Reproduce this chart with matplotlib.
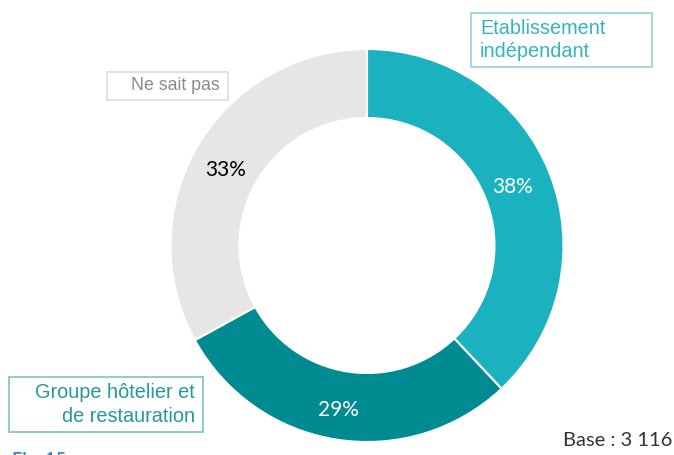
import matplotlib.pyplot as plt

# Répartition des réponses (base : 3 116)
categories = ["Etablissement\nindépendant", "Groupe hôtelier et\nde restauration", "Ne sait pas"]
shares = [38, 29, 33]
colors = ["#19B2BE", "#008A91", "#E6E6E6"]
pct_colors = ["white", "white", "black"]

W, H = 674, 455
fig = plt.figure(figsize=(W / 100, H / 100), dpi=100)
ax = fig.add_axes([0, 0, 1, 1])

# pixel-like coordinates, y going up
cx, cy, r_out = 367, H - 245.5, 196.5
ring_w = 69

wedges, _ = ax.pie(
    shares, colors=colors, startangle=90, counterclock=False,
    center=(cx, cy), radius=r_out,
    wedgeprops=dict(width=ring_w, edgecolor="white", linewidth=1.5),
)
ax.set_xlim(0, W)
ax.set_ylim(0, H)
ax.set_aspect("equal")
ax.axis("off")

# percentage labels
pct_pos = [(513, 187), (338, 410), (226, 170)]
for v, (px, py), c in zip(shares, pct_pos, pct_colors):
    ax.text(px, H - py, f"{v}%", color=c, fontsize=15, ha="center", va="center",
            family="Lato")

# category call-out boxes
def callout(x0, y0, x1, y1, text, tcolor, ecolor, ha, fs):
    ax.add_patch(plt.Rectangle((x0, H - y1), x1 - x0, y1 - y0, facecolor="white",
                               edgecolor=ecolor, linewidth=1.2))
    tx = x0 + 9 if ha == "left" else x1 - 8
    ax.text(tx, H - (y0 + y1) / 2, text, color=tcolor, fontsize=fs, ha=ha,
            va="center", family="Liberation Sans", linespacing=1.3,
            multialignment=ha)

callout(471, 13, 652, 67, categories[0], "#35B3BE", "#8FD3D9", "left", 14.3)
callout(9, 377, 203, 432, categories[1], "#24989B", "#7CC3C4", "right", 14.3)
callout(107, 72, 228, 100, categories[2], "#8A8A8A", "#DDDDDD", "right", 12.8)

ax.text(672, H - 441, "Base : 3 116", color="#333333", fontsize=14.5,
        ha="right", va="center", family="Lato")
# figure caption, cut by the bottom edge
ax.text(12, H - 452, "Fig. 15", color="#2F8FD8", fontsize=13, fontweight="bold",
        ha="left", va="top", family="Lato")

fig.savefig("out.png", dpi=100)
